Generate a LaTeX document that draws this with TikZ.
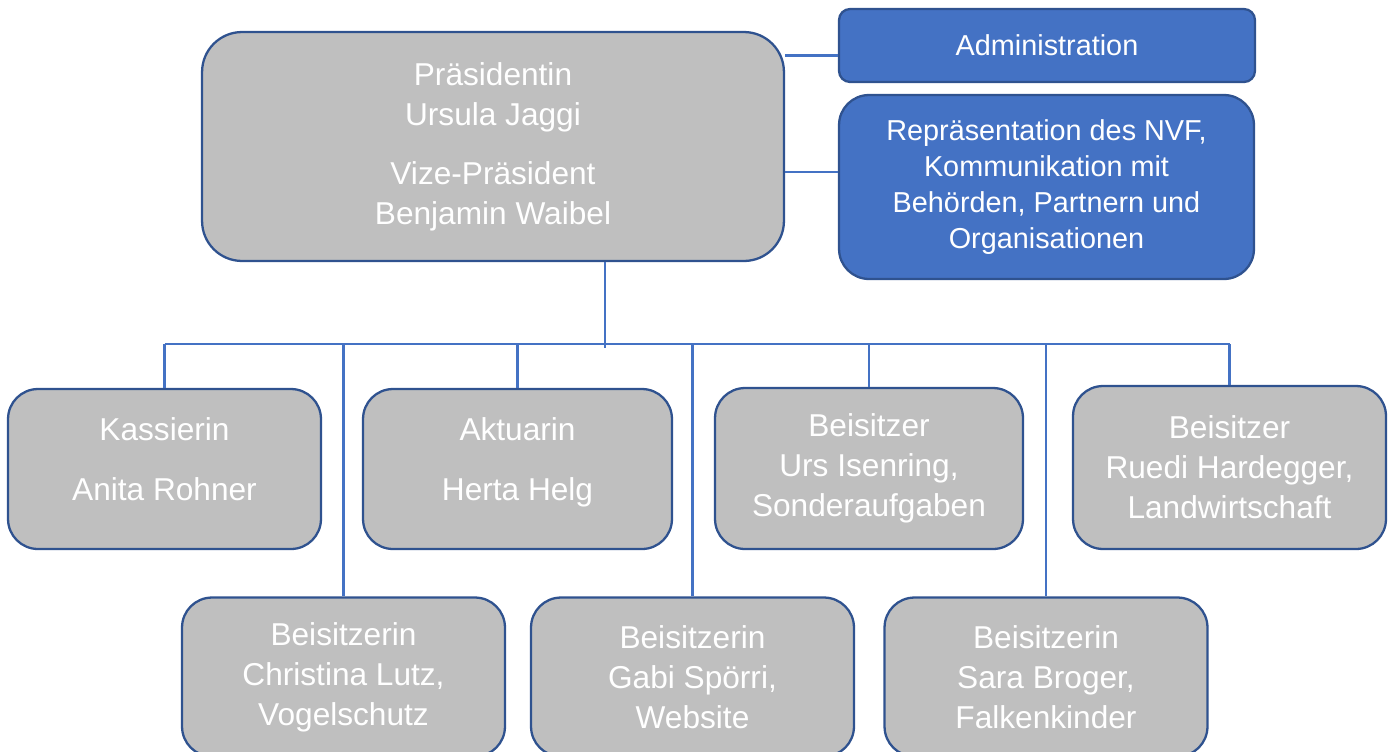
\documentclass[tikz,border=0pt]{standalone}
\usepackage{fontspec}
\setmainfont{Liberation Sans}
\usepackage{xcolor}
\usepackage{tikz}

\definecolor{boxgray}{HTML}{BFBFBF}
\definecolor{boxline}{HTML}{2F528F}
\definecolor{boxblue}{HTML}{4472C4}
\definecolor{wire}{HTML}{4472C4}

\begin{document}
\begin{tikzpicture}[x=0.02cm,y=-0.02cm]
        \tikzset{
          person/.style={draw=boxline, line width=1.3pt, fill=boxgray, text=white,
            align=center, rounded corners=0.6cm, inner sep=0pt,
            font=\fontsize{18}{22.7}\selectfont},
          task/.style={person, fill=boxblue, font=\fontsize{16.4}{20.4}\selectfont},
          wire/.style={draw=wire, line width=1.3pt}
        }
        \useasboundingbox (0,0) rectangle (1395,751);
        % oberste Ebene
        \node [person, rounded corners=0.8cm, minimum width=11.64cm, minimum height=4.58cm] (praes) at (493,146.5)
          {Präsidentin\\Ursula Jaggi\\[0.38cm]Vize-Präsident\\Benjamin Waibel};
        \node [task, rounded corners=0.22cm, minimum width=8.32cm, minimum height=1.46cm] (admin) at (1047,45.5)
          {Administration};
        \node [task, minimum width=8.3cm, minimum height=3.68cm] (repr) at (1046.5,187)
          {Repräsentation des NVF,\\Kommunikation mit\\Behörden, Partnern und\\Organisationen};
        % zweite Reihe (Text etwas hoeher)
        \node [person, minimum width=6.26cm, minimum height=3.2cm] (kass) at (164.5,469)
          {Kassierin\\[0.4cm]Anita Rohner\\[-0.4cm]\mbox{}};
        \node [person, minimum width=6.18cm, minimum height=3.2cm] (akt) at (517.5,469)
          {Aktuarin\\[0.4cm]Herta Helg\\[-0.4cm]\mbox{}};
        \node [person, minimum width=6.16cm, minimum height=3.22cm] (urs) at (869,468.5)
          {Beisitzer\\Urs Isenring,\\Sonderaufgaben};
        \node [person, minimum width=6.26cm, minimum height=3.26cm] (ruedi) at (1229.5,467.5)
          {Beisitzer\\Ruedi Hardegger,\\Landwirtschaft};
        % dritte Reihe
        \node [person, minimum width=6.46cm, minimum height=3.18cm] (christina) at (343.5,677)
          {Beisitzerin\\Christina Lutz,\\Vogelschutz};
        \node [person, minimum width=6.46cm, minimum height=3.18cm] (gabi) at (692.5,677)
          {Beisitzerin\\Gabi Spörri,\\Website};
        \node [person, minimum width=6.46cm, minimum height=3.18cm] (sara) at (1046,677)
          {Beisitzerin\\Sara Broger,\\Falkenkinder};
        % Verbindungen
        \coordinate (bus) at (605,344);
        \draw [wire] ([yshift=-0.2cm]admin.west) -- ([yshift=-0.2cm]admin.west -| praes.east);
        \draw [wire] ([yshift=0.3cm]repr.west) -- ([yshift=0.3cm]repr.west -| praes.east);
        \draw [wire] (praes.south -| bus) -- ([yshift=-0.08cm]bus);
        \draw [wire] (kass.north |- bus) -- (ruedi.north |- bus);
        \foreach \n in {kass,akt,urs,ruedi,christina,gabi,sara}
          \draw [wire] (\n.north |- bus) -- (\n.north);
\end{tikzpicture}
\end{document}
